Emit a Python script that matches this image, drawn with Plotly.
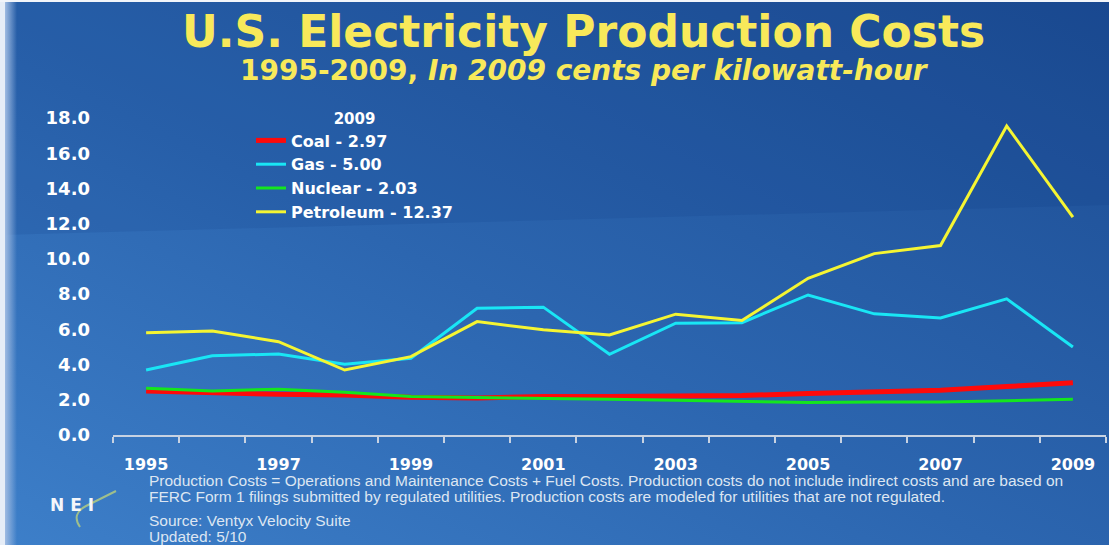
import base64
import plotly.graph_objects as go

# ---------------- data ----------------
years = [1995, 1996, 1997, 1998, 1999, 2000, 2001, 2002, 2003, 2004, 2005, 2006, 2007, 2008, 2009]
coal = [2.50, 2.37, 2.31, 2.27, 2.14, 2.10, 2.18, 2.18, 2.20, 2.24, 2.36, 2.48, 2.54, 2.75, 2.97]
gas = [3.69, 4.50, 4.60, 4.02, 4.36, 7.20, 7.26, 4.58, 6.35, 6.38, 7.95, 6.88, 6.65, 7.73, 5.00]
nuclear = [2.65, 2.50, 2.60, 2.43, 2.18, 2.14, 2.08, 2.03, 1.97, 1.92, 1.85, 1.87, 1.87, 1.95, 2.03]
petroleum = [5.81, 5.91, 5.30, 3.69, 4.45, 6.44, 5.97, 5.68, 6.86, 6.50, 8.90, 10.30, 10.76, 17.55, 12.37]
series_names = ["Coal - 2.97", "Gas - 5.00", "Nuclear - 2.03", "Petroleum - 12.37"]
x_tick_labels = ["1995", "1997", "1999", "2001", "2003", "2005", "2007", "2009"]
y_ticks = [0, 2, 4, 6, 8, 10, 12, 14, 16, 18]

W, H = 1109, 545
ML, MR, MT, MB = 113, 3, 118, 110
PW, PH = W - ML - MR, H - MT - MB


def px(x):
    return (x - ML) / PW


def py(y):
    return (H - MB - y) / PH


# ---------------- background (SVG gradient) ----------------
svg = f'''<svg xmlns="http://www.w3.org/2000/svg" width="{W}" height="{H}" viewBox="0 0 {W} {H}" preserveAspectRatio="none">
<defs>
<linearGradient id="g" x1="0" y1="1" x2="1" y2="0">
<stop offset="0" stop-color="#3d7fc9"/>
<stop offset="0.45" stop-color="#2c66b0"/>
<stop offset="1" stop-color="#1c4c93"/>
</linearGradient>
<linearGradient id="lg" x1="0" y1="0" x2="1" y2="0">
<stop offset="0" stop-color="#9fbbe2"/>
<stop offset="1" stop-color="#9fbbe2" stop-opacity="0"/>
</linearGradient>
</defs>
<rect width="{W}" height="{H}" fill="url(#g)"/>
<polygon points="0,0 {W},0 {W},205 0,235" fill="#0c3478" opacity="0.12"/>
<rect x="0" y="0" width="5" height="{H}" fill="#e6edf7"/>
<rect x="5" y="0" width="12" height="{H}" fill="url(#lg)"/>
<rect x="0" y="0" width="{W}" height="2" fill="#f2f5fa"/>
</svg>'''
svg_uri = "data:image/svg+xml;base64," + base64.b64encode(svg.encode()).decode()

fig = go.Figure()

colors = ["#ff0a0a", "#19e6f5", "#14e61e", "#f5f532"]
widths = [5, 3, 3, 3]
for name, vals, c, w in zip(series_names, [coal, gas, nuclear, petroleum], colors, widths):
    fig.add_trace(go.Scatter(x=years, y=vals, mode="lines", name=name,
                             line=dict(color=c, width=w), hoverinfo="skip"))

boundaries = [y - 0.5 for y in years] + [years[-1] + 0.5]

fig.update_layout(
    width=W, height=H,
    margin=dict(l=ML, r=MR, t=MT, b=MB, pad=0),
    paper_bgcolor="#2a62ad",
    plot_bgcolor="rgba(0,0,0,0)",
    showlegend=True,
    legend=dict(
        x=px(251), y=py(104), xanchor="left", yanchor="top",
        bgcolor="rgba(0,0,0,0)",
        font=dict(family="DejaVu Sans", size=16, color="white", weight="bold"),
        title=dict(text="2009", side="top center",
                   font=dict(family="DejaVu Sans", size=15, color="white", weight="bold")),
        tracegroupgap=0,
    ),
    xaxis=dict(
        range=[1994.5, 2009.5],
        tickmode="array",
        tickvals=[int(t) for t in x_tick_labels],
        ticktext=x_tick_labels,
        ticks="",
        showgrid=False, zeroline=False,
        showline=True, linecolor="#c7d2e2", linewidth=2,
        tickfont=dict(family="DejaVu Sans", size=16, color="white", weight="bold"),
        ticklabelstandoff=14,
        minor=dict(tickmode="array", tickvals=boundaries, ticks="outside",
                   ticklen=6, tickcolor="#c7d2e2", tickwidth=2, showgrid=False),
    ),
    yaxis=dict(
        range=[0, 18],
        tickmode="array",
        tickvals=y_ticks,
        tickformat=".1f",
        ticks="",
        showgrid=False, zeroline=False, showline=False,
        tickfont=dict(family="DejaVu Sans", size=18, color="white", weight="bold"),
        ticklabelstandoff=22,
    ),
    images=[dict(source=svg_uri, xref="paper", yref="paper",
                 x=px(0), y=py(0), sizex=W / PW, sizey=H / PH,
                 xanchor="left", yanchor="top", sizing="stretch", layer="below")],
)

title_color = "#f8e95a"
ann = [
    dict(x=px(583), y=py(32), text="<b>U.S. Electricity Production Costs</b>",
         font=dict(family="DejaVu Sans", size=44, color=title_color)),
    dict(x=px(584), y=py(70.5), text="<b>1995-2009, <i>In 2009 cents per kilowatt-hour</i></b>",
         font=dict(family="DejaVu Sans", size=28, color=title_color)),
]
foot_font = dict(family="Liberation Sans", size=15.5, color="#dde6f2")
foot = [
    (480.5, "Production Costs = Operations and Maintenance Costs + Fuel Costs. Production costs do not include indirect costs and are based on"),
    (496.5, "FERC Form 1 filings submitted by regulated utilities. Production costs are modeled for utilities that are not regulated."),
    (520, "Source: Ventyx Velocity Suite"),
    (536, "Updated: 5/10"),
]
for yy, t in foot:
    ann.append(dict(x=px(147), y=py(yy), text=t, xanchor="left", font=foot_font))
ann.append(dict(x=px(72), y=py(505), text="<b>N E I</b>",
                font=dict(family="DejaVu Sans", size=17, color="#f4f6fa")))
for a in ann:
    a.setdefault("xanchor", "center")
    a.update(xref="paper", yref="paper", yanchor="middle", showarrow=False)
fig.update_layout(annotations=ann)

# NEI swoosh (decoration)
fig.add_shape(type="path", xref="paper", yref="paper",
              path=f"M {px(80)},{py(527)} Q {px(71)},{py(514)} {px(86)},{py(506)} "
                   f"Q {px(100)},{py(499)} {px(116)},{py(491)}",
              line=dict(color="#9fbf8c", width=2), layer="above")

fig.write_html("out.html")
